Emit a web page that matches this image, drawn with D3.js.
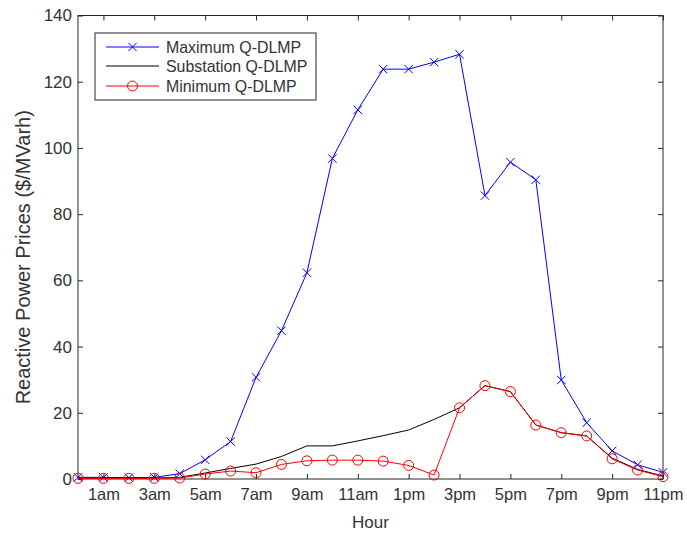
<!DOCTYPE html>
<html>
<head>
<meta charset="utf-8">
<script src="https://cdn.jsdelivr.net/npm/d3@7/dist/d3.min.js"></script>
<style>
  html, body { margin: 0; padding: 0; background: #fff; }
  svg { display: block; font-family: "Liberation Sans", Arial, sans-serif; }
</style>
</head>
<body>
<svg id="chart" width="687" height="534"></svg>
<script>
// Hour of day (0 = midnight)
const hours = [0, 1, 2, 3, 4, 5, 6, 7, 8, 9, 10, 11, 12, 13, 14, 15, 16, 17, 18, 19, 20, 21, 22, 23];

// Reactive power prices, $/MVarh
const maxQDLMP = [0.5, 0.5, 0.4, 0.5, 1.6, 5.8, 11.3, 30.7, 44.8, 62.3, 96.8, 111.5, 123.8, 123.8, 125.9, 128.3, 85.6, 95.7, 90.4, 29.9, 17.0, 8.5, 4.3, 2.0];
const subQDLMP = [0.3, 0.3, 0.3, 0.3, 0.5, 1.8, 3.2, 4.5, 6.8, 10.0, 10.0, 11.5, 13.1, 14.8, 18.0, 21.5, 28.2, 26.4, 16.3, 14.0, 13.0, 6.3, 2.9, 0.9];
const minQDLMP = [0.2, 0.2, 0.2, 0.2, 0.3, 1.5, 2.4, 1.9, 4.4, 5.5, 5.7, 5.7, 5.4, 4.1, 1.2, 21.5, 28.2, 26.4, 16.3, 14.0, 13.0, 6.1, 2.7, 0.7];

// Axis ticks
const xTickValues = [1, 3, 5, 7, 9, 11, 13, 15, 17, 19, 21, 23];
const xTickLabels = ["1am", "3am", "5am", "7am", "9am", "11am", "1pm", "3pm", "5pm", "7pm", "9pm", "11pm"];
const yTickValues = [0, 20, 40, 60, 80, 100, 120, 140];

const seriesNames = ["Maximum Q-DLMP", "Substation Q-DLMP", "Minimum Q-DLMP"];
const seriesValues = [maxQDLMP, subQDLMP, minQDLMP];
const seriesColors = ["#0000ff", "#000000", "#ff0000"];
const seriesMarkers = ["cross", "none", "circle"];

const svg = d3.select("#chart");
const plotLeft = 78, plotRight = 663, plotTop = 15.5, plotBottom = 479;

const x = d3.scaleLinear().domain([0, 23]).range([plotLeft, plotRight]);
const y = d3.scaleLinear().domain([0, 140]).range([plotBottom, plotTop]);

const axisColor = "#262626";
const textColor = "#333333";

// Plot box
svg.append("rect")
  .attr("x", plotLeft).attr("y", plotTop)
  .attr("width", plotRight - plotLeft).attr("height", plotBottom - plotTop)
  .attr("fill", "#fff").attr("stroke", axisColor).attr("stroke-width", 1);

const styleAxis = (g, size) => {
  g.select(".domain").remove();
  g.selectAll(".tick line").attr("stroke", axisColor);
  g.selectAll(".tick text").attr("fill", textColor).attr("font-size", size);
};

// Left axis with labels, ticks pointing inward
svg.append("g")
  .attr("transform", `translate(${plotLeft},0)`)
  .call(d3.axisLeft(y).tickValues(yTickValues).tickSizeInner(-5).tickSizeOuter(0).tickPadding(6))
  .call(styleAxis, 17);

// Right axis ticks
svg.append("g")
  .attr("transform", `translate(${plotRight},0)`)
  .call(d3.axisRight(y).tickValues(yTickValues).tickSizeInner(-5).tickSizeOuter(0).tickFormat(""))
  .call(styleAxis, 17);

// Bottom axis with hour labels
svg.append("g")
  .attr("transform", `translate(0,${plotBottom})`)
  .call(d3.axisBottom(x).tickValues(xTickValues).tickSizeInner(-5).tickSizeOuter(0).tickPadding(9)
    .tickFormat((d, i) => xTickLabels[i]))
  .call(styleAxis, 16.5);

// Top axis ticks
svg.append("g")
  .attr("transform", `translate(0,${plotTop})`)
  .call(d3.axisTop(x).tickValues(xTickValues).tickSizeInner(-5).tickSizeOuter(0).tickFormat(""))
  .call(styleAxis, 17);

// Axis titles
svg.append("text")
  .attr("x", (plotLeft + plotRight) / 2).attr("y", 528)
  .attr("text-anchor", "middle")
  .attr("font-size", 17).attr("fill", textColor)
  .text("Hour");

svg.append("text")
  .attr("transform", `translate(30,${(plotTop + plotBottom) / 2 + 10}) rotate(-90)`)
  .attr("text-anchor", "middle")
  .attr("font-size", 20).attr("fill", textColor)
  .text("Reactive Power Prices ($/MVarh)");

// Series lines and markers
const line = d3.line().x((d, i) => x(hours[i])).y(d => y(d));

function drawMarker(g, type, color, cx, cy) {
  if (type === "cross") {
    const s = 4.2;
    g.append("path")
      .attr("d", `M${cx - s},${cy - s}L${cx + s},${cy + s}M${cx - s},${cy + s}L${cx + s},${cy - s}`)
      .attr("stroke", color).attr("stroke-width", 1).attr("fill", "none");
  } else if (type === "circle") {
    g.append("circle")
      .attr("cx", cx).attr("cy", cy).attr("r", 5)
      .attr("stroke", color).attr("stroke-width", 1).attr("fill", "none");
  }
}

seriesValues.forEach((vals, k) => {
  const g = svg.append("g");
  g.append("path")
    .datum(vals)
    .attr("d", line)
    .attr("fill", "none")
    .attr("stroke", seriesColors[k])
    .attr("stroke-width", 1);
  vals.forEach((v, i) => drawMarker(g, seriesMarkers[k], seriesColors[k], x(hours[i]), y(v)));
});

// Legend
const lg = svg.append("g");
lg.append("rect")
  .attr("x", 95).attr("y", 33).attr("width", 221).attr("height", 67)
  .attr("fill", "#fff").attr("stroke", axisColor).attr("stroke-width", 1);
const rowY = [47, 66, 86];
seriesNames.forEach((name, k) => {
  lg.append("line")
    .attr("x1", 106).attr("x2", 159).attr("y1", rowY[k]).attr("y2", rowY[k])
    .attr("stroke", seriesColors[k]).attr("stroke-width", 1);
  drawMarker(lg, seriesMarkers[k], seriesColors[k], 132.5, rowY[k]);
  lg.append("text")
    .attr("x", 166).attr("y", rowY[k])
    .attr("dy", "0.36em")
    .attr("font-size", 15.9).attr("fill", textColor)
    .text(name);
});
</script>
</body>
</html>
